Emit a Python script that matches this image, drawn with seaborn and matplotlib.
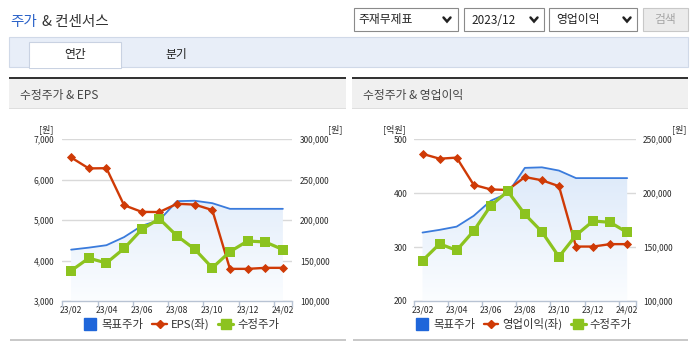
import numpy as np
import pandas as pd
import matplotlib
matplotlib.use('Agg')
import matplotlib.pyplot as plt
import seaborn as sns
from matplotlib.patches import Rectangle, PathPatch
from matplotlib.lines import Line2D
from matplotlib.colors import LinearSegmentedColormap

# ---------------- data ----------------
months = ['23/02', '23/03', '23/04', '23/05', '23/06', '23/07', '23/08',
          '23/09', '23/10', '23/11', '23/12', '24/01', '24/02']
target_price = [163500, 166000, 169000, 179000, 193000, 200000, 223500,
                224000, 221000, 214000, 214000, 214000, 214000]
adj_price = [137500, 153000, 147000, 165000, 188500, 201700, 180500,
             164200, 141000, 161000, 174200, 173000, 163600]
eps = [6550, 6280, 6285, 5370, 5205, 5200, 5405, 5385, 5250, 3795, 3795, 3820, 3820]
op_profit = [473, 464, 466, 415.5, 407, 406, 430, 424, 413, 301, 301, 305.5, 305.5]

eps_ticks = [3000, 4000, 5000, 6000, 7000]
op_ticks = [200, 300, 400, 500]
price_ticks_left = [100000, 150000, 200000, 250000, 300000]
price_ticks_right = [100000, 150000, 200000, 250000]

BLUE = '#3a7bdc'
BLUE_SQ = '#1f66da'
RED = '#cf3a06'
GREEN = '#8cc31f'
TXT = '#2a2a2a'

W, H = 695, 349
sns.set_theme(style='white')
plt.rcParams['font.family'] = ['Noto Sans CJK KR', 'DejaVu Sans']

fig = plt.figure(figsize=(W / 100, H / 100), dpi=100)
fig.patch.set_facecolor('white')


def fx(x):
    return x / W


def fy(y):
    return 1 - y / H


def rect(x0, y0, x1, y1, fc, ec='none', lw=0.0, z=0):
    fig.add_artist(Rectangle((fx(x0), fy(y1)), (x1 - x0) / W, (y1 - y0) / H,
                             transform=fig.transFigure, facecolor=fc,
                             edgecolor=ec, linewidth=lw, zorder=z))


def ftext(x, y, s, **kw):
    kw.setdefault('color', TXT)
    kw.setdefault('va', 'center')
    fig.text(fx(x), fy(y), s, **kw)


# ---------------- page header ----------------
ftext(10, 22, '주가', color='#2b62c8', fontsize=10.5)
ftext(42, 22, '& 컨센서스', color='#333333', fontsize=10.5)

for (x0, x1, label, tx, cx) in [(354, 458, '주재무제표', 358, 447),
                                 (464, 544, '2023/12', 471, 534),
                                 (549, 637, '영업이익', 556, 627)]:
    rect(x0, 8, x1, 31, 'white', ec='#8a8a8a', lw=0.8)
    ftext(tx, 20, label, fontsize=8.5, color='#222222')
    fig.add_artist(Line2D([fx(cx - 3.5), fx(cx), fx(cx + 3.5)],
                          [fy(17.5), fy(21.5), fy(17.5)], transform=fig.transFigure,
                          color='#222222', lw=1.8, solid_joinstyle='miter'))
rect(643, 8, 688, 31, '#ebebeb', ec='#c8c8c8', lw=0.8)
ftext(665.5, 20, '검색', fontsize=8.5, color='#a5a5a5', ha='center')

# tabs
rect(9, 37, 688, 67, '#e8eef8', ec='#d0d9e8', lw=0.8)
rect(29, 42, 121, 67.5, 'white', ec='#c9d2e2', lw=0.8)
rect(29.5, 66, 120.5, 68, 'white')
ftext(75, 54.5, '연간', fontsize=8.5, ha='center', color='#222222')
ftext(176, 54.5, '분기', fontsize=8.5, ha='center', color='#222222')

# panel headers
for (x0, x1, title) in [(9, 346, '수정주가 & EPS'), (352, 688, '수정주가 & 영업이익')]:
    rect(x0, 76.8, x1, 79, '#333333')
    rect(x0, 79, x1, 108, '#f0f0f0')
    rect(x0, 108, x1, 109, '#dedede')
    ftext(x0 + 11, 95, title, fontsize=8.5, color='#444444')
    rect(x0 + 1, 339, x1, 341.2, '#c9c9c9')


# ---------------- charts ----------------
idx = np.arange(len(months))
cmap = LinearSegmentedColormap.from_list('fillgrad', ['#fbfdff', '#d6e5f8'])


def chart(x0, x1, left_vals, left_lim, left_ticks, left_name,
          right_lim, right_ticks, lpad, rpad, unit_l_x, unit_l, unit_r_x, legend_cx):
    top, bottom = 139.3, 301.0
    r = [fx(x0), fy(bottom), (x1 - x0) / W, (bottom - top) / H]
    ax_bg = fig.add_axes(r, zorder=1)
    ax_l = fig.add_axes(r, zorder=2)
    ax_g = fig.add_axes(r, zorder=3)

    # background: target price fill + line (right scale)
    poly = ax_bg.fill_between(idx, target_price, right_lim[0], color='none', lw=0)
    clip = PathPatch(poly.get_paths()[0], transform=ax_bg.transData,
                     facecolor='none', edgecolor='none')
    ax_bg.add_patch(clip)
    grad = np.linspace(1, 0, 256).reshape(-1, 1)
    im = ax_bg.imshow(grad, cmap=cmap, aspect='auto', origin='upper',
                      extent=[-0.5, 12.5, right_lim[0], right_lim[1]], zorder=1)
    im.set_clip_path(clip)
    sns.lineplot(x=idx, y=target_price, ax=ax_bg, color=BLUE, lw=1.3, zorder=3)

    # left-scale series
    sns.lineplot(x=idx, y=left_vals, ax=ax_l, color=RED, lw=1.7, marker='D',
                 markersize=4.0, markeredgecolor=RED, markeredgewidth=0.6)
    # adjusted price (right scale)
    sns.lineplot(x=idx, y=adj_price, ax=ax_g, color=GREEN, lw=2.3, marker='s',
                 markersize=6.6, markeredgecolor=GREEN, markeredgewidth=0)

    for ax in (ax_bg, ax_l, ax_g):
        ax.set_xlim(-0.5, 12.5)
        ax.set_xlabel('')
        ax.set_ylabel('')
        for s in ax.spines.values():
            s.set_visible(False)
    ax_bg.set_ylim(*right_lim)
    ax_g.set_ylim(*right_lim)
    ax_l.set_ylim(*left_lim)
    ax_bg.set_facecolor('white')
    ax_l.set_facecolor('none')
    ax_g.set_facecolor('none')

    # grid + bottom axis on background axes
    ax_bg.set_yticks(right_ticks)
    ax_bg.yaxis.tick_right()
    ax_bg.set_yticklabels([f'{v:,}' for v in right_ticks])
    ax_bg.tick_params(axis='y', length=0, pad=rpad, labelsize=6.0, labelcolor=TXT)
    ax_bg.yaxis.grid(True, color='#d9d9d9', lw=1.0)
    ax_bg.set_axisbelow(True)
    ax_bg.spines['bottom'].set_visible(True)
    ax_bg.spines['bottom'].set_color('#b8c3d3')
    ax_bg.spines['bottom'].set_linewidth(1.0)
    ax_bg.set_xticks(idx[::2])
    ax_bg.set_xticklabels(months[::2])
    ax_bg.set_xticks(list(np.arange(-0.5, 12.0, 2.0)) + [12.5], minor=True)
    ax_bg.tick_params(axis='x', which='major', length=0, pad=3.5, labelsize=6.2,
                      labelcolor=TXT)
    ax_bg.tick_params(axis='x', which='minor', length=4, width=1.0, color='#b8c3d3',
                      direction='out', bottom=True)
    ax_bg.xaxis.grid(False)

    ax_l.set_yticks(left_ticks)
    ax_l.set_yticklabels([f'{v:,}' for v in left_ticks])
    ax_l.yaxis.tick_left()
    ax_l.tick_params(axis='y', length=0, pad=lpad, labelsize=6.0, labelcolor=TXT)
    ax_l.xaxis.set_visible(False)
    ax_l.grid(False)
    ax_g.xaxis.set_visible(False)
    ax_g.yaxis.set_visible(False)
    ax_g.grid(False)

    ftext(unit_l_x, 129, unit_l, fontsize=6.5, ha='center')
    ftext(unit_r_x, 129, '[원]', fontsize=6.5, ha='center')

    handles = [
        Line2D([], [], ls='none', marker='s', markersize=9.3, color=BLUE_SQ),
        Line2D([], [], color=RED, lw=1.7, marker='D', markersize=4.2),
        Line2D([], [], color=GREEN, lw=2.3, marker='s', markersize=6.6),
    ]
    labels = ['목표주가', left_name, '수정주가']
    fig.legend(handles, labels, loc='center', bbox_to_anchor=(fx(legend_cx), fy(324)),
               ncol=3, frameon=False, fontsize=8.2, handlelength=1.3,
               handletextpad=0.35, columnspacing=0.75, borderpad=0,
               labelcolor='#333333')


chart(62.3, 291.7, eps, (3000, 7000), eps_ticks, 'EPS(좌)',
      (100000, 300000), price_ticks_left, 5.6, 5.8, 46, '[원]', 335, 181)
chart(414.0, 635.7, op_profit, (200, 500), op_ticks, '영업이익(좌)',
      (100000, 250000), price_ticks_right, 4.8, 5.1, 394, '[억원]', 679, 523)

fig.savefig('out.png', dpi=100, facecolor='white')
